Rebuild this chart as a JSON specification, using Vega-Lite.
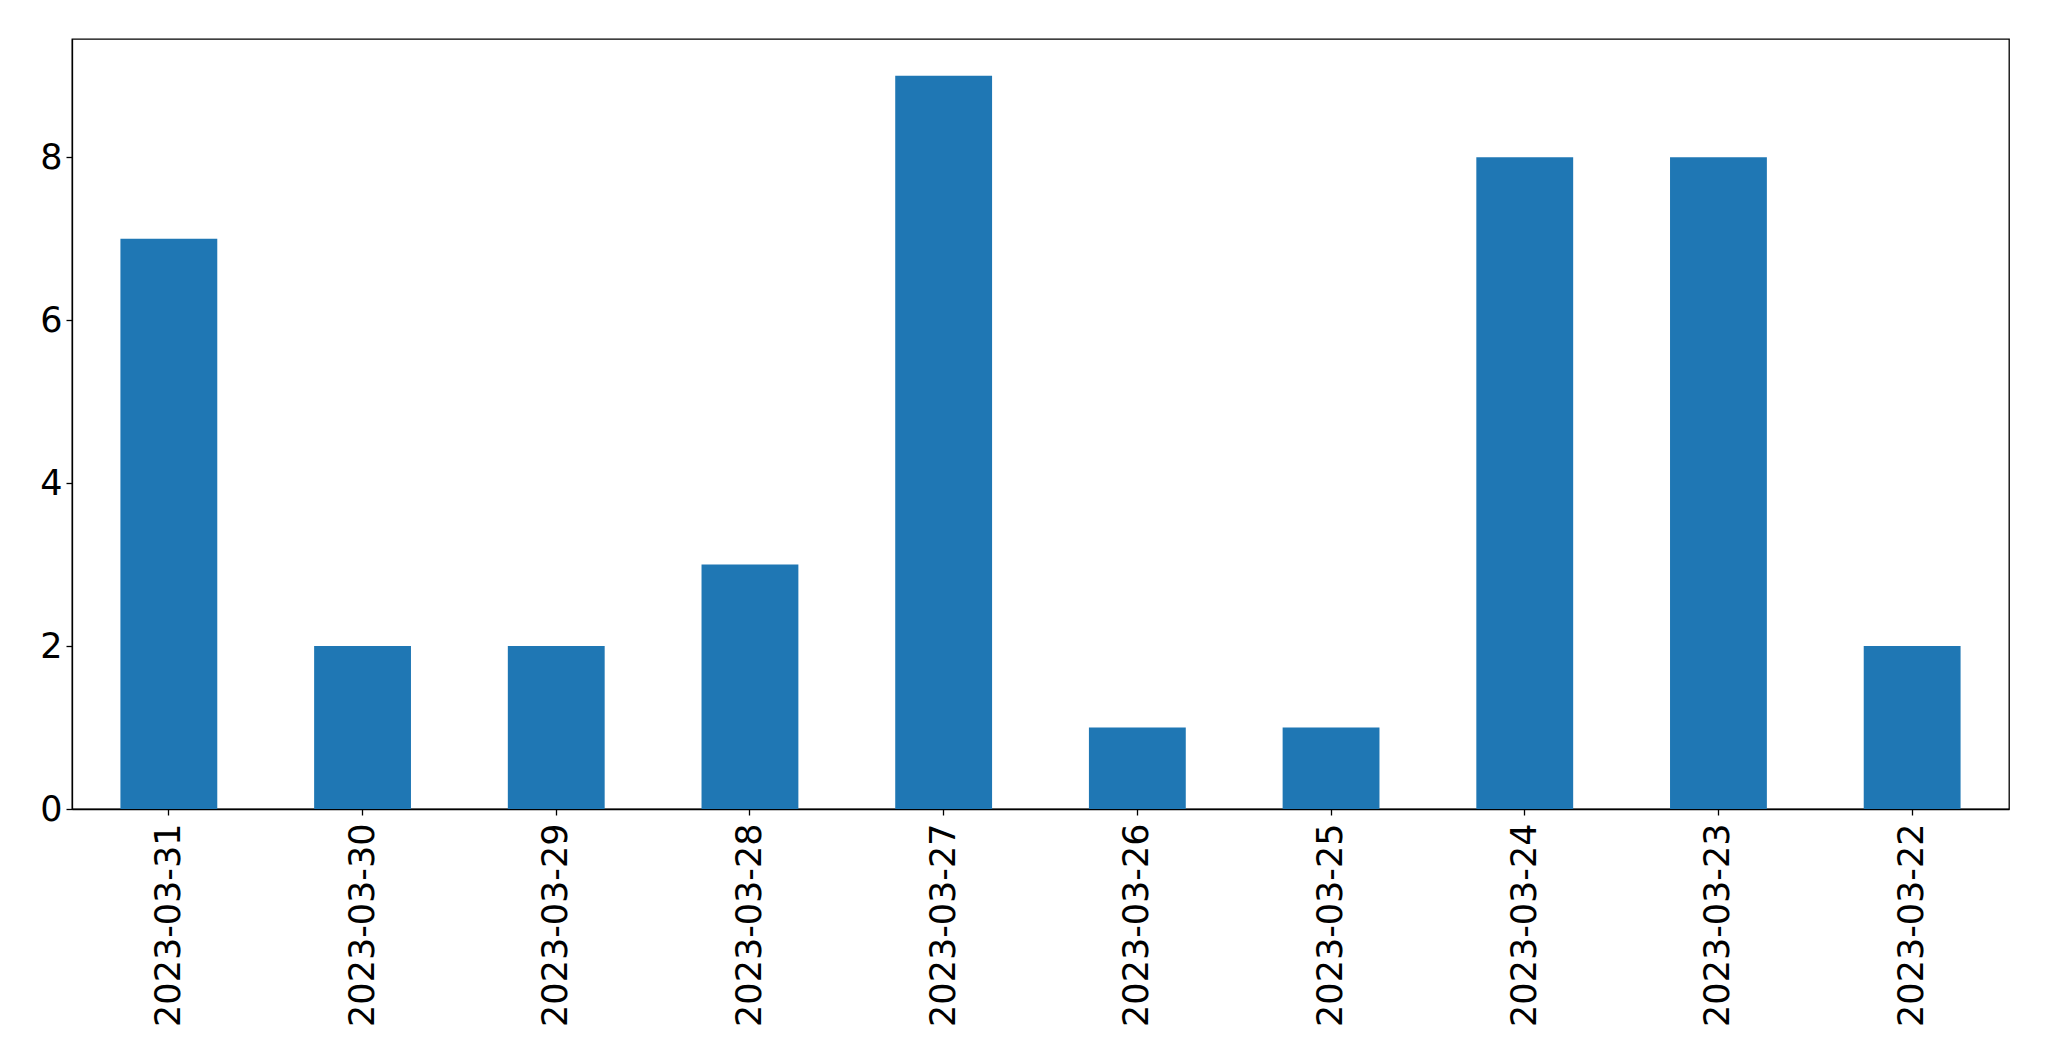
{
  "$schema": "https://vega.github.io/schema/vega-lite/v6.json",
  "autosize": {"type": "none"},
  "padding": {"left": 72, "top": 39, "right": 40, "bottom": 252},
  "width": 1937,
  "height": 770,
  "background": "white",
  "config": {
    "view": {"stroke": "black", "strokeWidth": 1.3},
    "axis": {
      "labelFont": "DejaVu Sans",
      "labelFontSize": 35,
      "labelColor": "black",
      "labelLimit": 0,
      "domainColor": "black",
      "tickColor": "black",
      "grid": false,
      "title": null
    }
  },
  "data": {
    "values": [
      {"date": "2023-03-31", "count": 7},
      {"date": "2023-03-30", "count": 2},
      {"date": "2023-03-29", "count": 2},
      {"date": "2023-03-28", "count": 3},
      {"date": "2023-03-27", "count": 9},
      {"date": "2023-03-26", "count": 1},
      {"date": "2023-03-25", "count": 1},
      {"date": "2023-03-24", "count": 8},
      {"date": "2023-03-23", "count": 8},
      {"date": "2023-03-22", "count": 2}
    ]
  },
  "mark": {"type": "bar", "color": "#1f77b4"},
  "encoding": {
    "x": {
      "field": "date",
      "type": "nominal",
      "sort": null,
      "scale": {"paddingInner": 0.5, "paddingOuter": 0.25},
      "axis": {"labelAngle": -90, "labelAlign": "right", "labelBaseline": "middle", "tickSize": 6, "labelPadding": 8, "domainWidth": 1.3, "tickWidth": 1.3}
    },
    "y": {
      "field": "count",
      "type": "quantitative",
      "scale": {"domain": [0, 9.45], "nice": false},
      "axis": {"values": [0, 2, 4, 6, 8], "tickSize": 6, "labelPadding": 4, "domainWidth": 1.3, "tickWidth": 1.3}
    }
  }
}
